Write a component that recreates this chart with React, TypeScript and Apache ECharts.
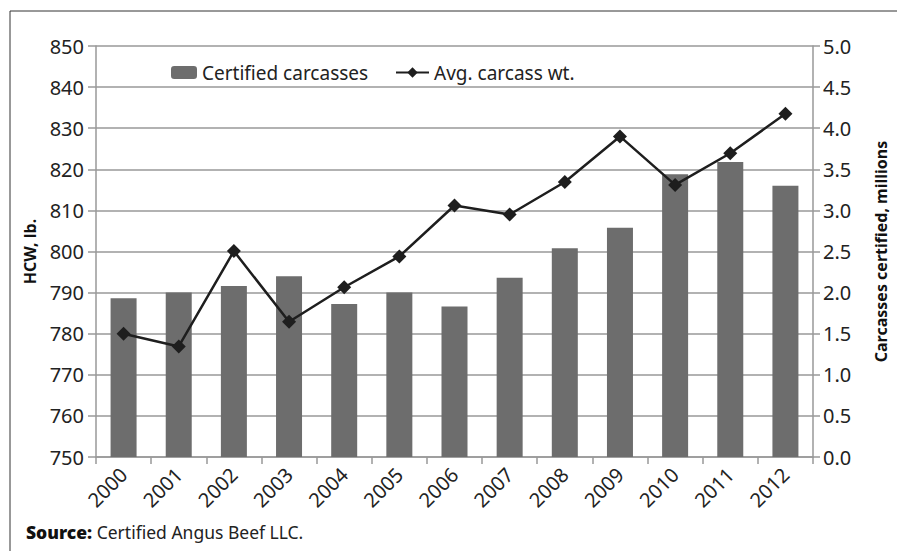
import React, { useEffect, useRef } from "react";
import * as echarts from "echarts";

const years = ["2000","2001","2002","2003","2004","2005","2006","2007","2008","2009","2010","2011","2012"];
const certifiedMillions = [1.93, 2.0, 2.08, 2.2, 1.86, 2.0, 1.83, 2.18, 2.54, 2.79, 3.44, 3.59, 3.3];
const avgCarcassWt = [780.0, 776.9, 800.1, 782.9, 791.3, 798.8, 811.2, 809.0, 816.9, 828.0, 816.2, 823.9, 833.5];

const FONT = "'Noto Sans', 'Open Sans', sans-serif";

export default function App() {
  const ref = useRef<HTMLDivElement>(null);
  useEffect(() => {
    document.body.style.margin = "0";
    const chart = echarts.init(ref.current!, null, { renderer: "svg" });
    chart.setOption({
      animation: false,
      backgroundColor: "#ffffff",
      textStyle: { fontFamily: FONT },
      grid: { left: 96, right: 78, top: 46, bottom: 94, containLabel: false },
      legend: [
        {
          data: ["Certified carcasses"],
          left: 166,
          top: 58,
          itemWidth: 26,
          itemHeight: 13,
          itemGap: 6,
          textStyle: { fontFamily: FONT, fontSize: 19, color: "#222" },
        },
        {
          data: ["Avg. carcass wt."],
          left: 390,
          top: 58,
          itemWidth: 33,
          itemHeight: 13,
          textStyle: { fontFamily: FONT, fontSize: 19, color: "#222" },
        },
      ],
      xAxis: {
        type: "category",
        data: years,
        boundaryGap: true,
        axisLine: { show: true, lineStyle: { color: "#999", width: 1.5 } },
        axisTick: { show: true, length: 7, lineStyle: { color: "#999", width: 1.5 } },
        axisLabel: { rotate: 45, fontSize: 20, color: "#222", margin: 14, fontFamily: FONT },
      },
      yAxis: [
        {
          type: "value",
          min: 750,
          max: 850,
          interval: 10,
          position: "left",
          name: "HCW, lb.",
          nameLocation: "middle",
          nameGap: 58,
          nameTextStyle: { fontFamily: FONT, fontSize: 16, fontWeight: "bold", color: "#111" },
          axisLine: { show: true, lineStyle: { color: "#999", width: 1.5 } },
          axisTick: { show: true, length: 8, lineStyle: { color: "#999", width: 1.5 } },
          axisLabel: { fontSize: 20, color: "#222", margin: 12, fontFamily: FONT },
          splitLine: { show: true, lineStyle: { color: "#999", width: 1.5 } },
        },
        {
          type: "value",
          min: 0,
          max: 5,
          interval: 0.5,
          position: "right",
          name: "Carcasses certified, millions",
          nameLocation: "middle",
          nameGap: 60,
          nameRotate: 90,
          nameTextStyle: { fontFamily: FONT, fontSize: 16, fontWeight: "bold", color: "#111" },
          axisLine: { show: true, lineStyle: { color: "#999", width: 1.5 } },
          axisTick: { show: true, length: 7, lineStyle: { color: "#999", width: 1.5 } },
          axisLabel: {
            fontSize: 20,
            color: "#222",
            margin: 10,
            fontFamily: FONT,
            formatter: (v: number) => v.toFixed(1),
          },
          splitLine: { show: false },
        },
      ],
      series: [
        {
          name: "Certified carcasses",
          type: "bar",
          yAxisIndex: 1,
          data: certifiedMillions,
          barWidth: 26,
          itemStyle: { color: "#6d6d6d" },
        },
        {
          name: "Avg. carcass wt.",
          type: "line",
          yAxisIndex: 0,
          data: avgCarcassWt,
          symbol: "diamond",
          symbolSize: 14,
          lineStyle: { color: "#1e1e1e", width: 2.5 },
          itemStyle: { color: "#1e1e1e" },
        },
      ],
      graphic: [
        { type: "line", shape: { x1: 10, y1: 11, x2: 897, y2: 11 }, style: { stroke: "#333", lineWidth: 1 } },
        { type: "line", shape: { x1: 10, y1: 11, x2: 10, y2: 551 }, style: { stroke: "#333", lineWidth: 1 } },
        {
          type: "text",
          left: 26,
          top: 523,
          style: {
            text: "{b|Source:} Certified Angus Beef LLC.",
            rich: {
              b: { fontFamily: FONT, fontSize: 17.5, fontWeight: 900, fill: "#111" },
            },
            fontFamily: FONT,
            fontSize: 17.5,
            fill: "#222",
          },
        },
      ],
    });
    return () => chart.dispose();
  }, []);
  return <div ref={ref} style={{ width: 897, height: 551 }} />;
}
